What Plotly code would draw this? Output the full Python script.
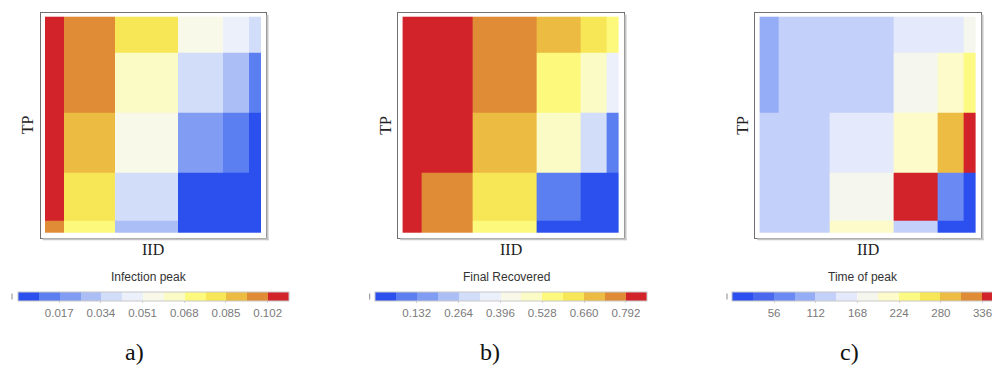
import plotly.graph_objects as go

# ---------------- data ----------------
# cell edges (relative units), IID left->right, TP bottom->top
IID_EDGES = [0.0, 0.087, 0.323, 0.617, 0.824, 0.943, 1.0]
TP_EDGES = [0.0, 0.052, 0.275, 0.555, 0.835, 1.0]

# rows bottom -> top
infection_peak = [
    [0.097, 0.071, 0.029, 0.003, 0.002, 0.001],
    [0.107, 0.080, 0.037, 0.004, 0.003, 0.002],
    [0.108, 0.089, 0.055, 0.021, 0.013, 0.006],
    [0.109, 0.098, 0.063, 0.038, 0.030, 0.014],
    [0.110, 0.100, 0.081, 0.054, 0.046, 0.039],
]
final_recovered = [
    [0.835, 0.760, 0.560, 0.030, 0.020, 0.015],
    [0.840, 0.770, 0.630, 0.100, 0.040, 0.025],
    [0.845, 0.820, 0.700, 0.490, 0.300, 0.110],
    [0.848, 0.830, 0.765, 0.570, 0.500, 0.360],
    [0.850, 0.835, 0.780, 0.690, 0.630, 0.560],
]
time_of_peak = [
    [126, 128, 210, 130, 14, 10],
    [125, 127, 182, 350, 70, 20],
    [124, 126, 154, 212, 294, 345],
    [98, 122, 130, 185, 205, 238],
    [96, 120, 132, 150, 158, 178],
]

TICKS_A = [0.017, 0.034, 0.051, 0.068, 0.085, 0.102]
TICKS_B = [0.132, 0.264, 0.396, 0.528, 0.660, 0.792]
TICKS_C = [56, 112, 168, 224, 280, 336]
TICKTEXT_A = ["0.017", "0.034", "0.051", "0.068", "0.085", "0.102"]
TICKTEXT_B = ["0.132", "0.264", "0.396", "0.528", "0.660", "0.792"]
TICKTEXT_C = ["56", "112", "168", "224", "280", "336"]
STEP_A, STEP_B, STEP_C = 0.0085, 0.066, 28

TITLES = ["Infection peak", "Final Recovered", "Time of peak"]
PANEL_LABELS = ["a)", "b)", "c)"]

PAL_AB = ['#2c50ee', '#5b7ff0', '#809cf3', '#abbef6', '#d2ddf9', '#ebf0fb', '#f8f9e9',
          '#fbfbc6', '#fdf97c', '#f7e655', '#ecbb42', '#e08c37', '#d2232a']
PAL_C = ['#2c50ef', '#4a68ee', '#6a89f2', '#95acf6', '#c3d1fa', '#e4e9fb', '#f5f7ee',
         '#fdfbc9', '#fdfa83', '#f7e655', '#ecbd42', '#e08c36', '#d3232a']

W, H = 992, 365


def px(x):
    return x / W


def py(y):
    return 1 - y / H


def discrete(pal):
    n = len(pal)
    cs = []
    for i, c in enumerate(pal):
        cs.append([i / n, c])
        cs.append([(i + 1) / n, c])
    return cs


frames = [(40.7, 266.0), (398.3, 624.0), (755.3, 981.0)]
frame_top, frame_bot = 12.7, 237.7
bars = [(17.3, 288.7), (375.0, 646.7), (732.3, 1003.5)]
bar_top = 292.3
title_x = [148.5, 506.5, 863.0]
label_x = [134, 490, 849]

datasets = [infection_peak, final_recovered, time_of_peak]
ticks = [TICKS_A, TICKS_B, TICKS_C]
ticktexts = [TICKTEXT_A, TICKTEXT_B, TICKTEXT_C]
steps = [STEP_A, STEP_B, STEP_C]
pals = [PAL_AB, PAL_AB, PAL_C]

fig = go.Figure()
shapes = []
annotations = []
serif = "Liberation Serif"
sans = "Liberation Sans"

for i in range(3):
    ax = "" if i == 0 else str(i + 1)
    b0, b1 = bars[i]
    fig.add_trace(go.Heatmap(
        z=datasets[i], x=IID_EDGES, y=TP_EDGES, zsmooth=False,
        colorscale=discrete(pals[i]), zmin=0, zmax=13 * steps[i],
        xaxis="x" + ax, yaxis="y" + ax, hoverinfo="skip",
        colorbar=dict(
            orientation="h", lenmode="pixels", len=b1 - b0, thickness=9,
            x=px((b0 + b1) / 2), xanchor="center", y=py(bar_top), yanchor="top",
            xpad=0, ypad=0, outlinewidth=1, outlinecolor="#c8c8c8",
            tickvals=ticks[i], ticktext=ticktexts[i], ticks="outside", ticklen=2,
            ticklabeloverflow="allow",
            tickcolor="#d0d0d0", tickfont=dict(family=sans, size=11.5, color="#7a7a7a"),
        ),
    ))
    f0, f1 = frames[i]
    common = dict(showgrid=False, zeroline=False, showticklabels=False, ticks="",
                  showline=True, mirror=True, linecolor="#707070", linewidth=1,
                  fixedrange=True)
    fig.layout["xaxis" + ax] = dict(domain=[px(f0), px(f1)], range=[-0.0199, 1.0231],
                                    anchor="y" + ax, **common)
    fig.layout["yaxis" + ax] = dict(domain=[py(frame_bot), py(frame_top)],
                                    range=[-0.025, 1.0186], anchor="x" + ax, **common)
    # shadow on right and bottom
    shapes.append(dict(type="line", xref="paper", yref="paper",
                       x0=px(f1 + 1.5), x1=px(f1 + 1.5), y0=py(frame_top + 2), y1=py(frame_bot + 2.5),
                       line=dict(color="#c4c4c4", width=2)))
    shapes.append(dict(type="line", xref="paper", yref="paper",
                       x0=px(f0 + 2), x1=px(f1 + 2.5), y0=py(frame_bot + 1.5), y1=py(frame_bot + 1.5),
                       line=dict(color="#c4c4c4", width=2)))
    # small mark left of colorbar
    shapes.append(dict(type="line", xref="paper", yref="paper",
                       x0=px(b0 - 5.3), x1=px(b0 - 5.3), y0=py(293.5), y1=py(299.5),
                       line=dict(color="#8a8a8a", width=1)))
    # axis titles
    annotations.append(dict(text="TP", x=px(f0 - 13.5), y=py(125), xref="paper", yref="paper",
                            textangle=-90, showarrow=False, xanchor="center", yanchor="middle",
                            font=dict(family=serif, size=16, color="#222")))
    annotations.append(dict(text="IID", x=px((f0 + f1) / 2), y=py(249.5), xref="paper", yref="paper",
                            showarrow=False, xanchor="center", yanchor="middle",
                            font=dict(family=serif, size=16, color="#222")))
    annotations.append(dict(text=TITLES[i], x=px(title_x[i]), y=py(277), xref="paper", yref="paper",
                            showarrow=False, xanchor="center", yanchor="middle",
                            font=dict(family=sans, size=12, color="#333")))
    annotations.append(dict(text=PANEL_LABELS[i], x=px(label_x[i]), y=py(352), xref="paper", yref="paper",
                            showarrow=False, xanchor="center", yanchor="middle",
                            font=dict(family=serif, size=24, color="#111")))

fig.update_layout(width=W, height=H, margin=dict(l=0, r=0, t=0, b=0, autoexpand=False),
                  paper_bgcolor="white", plot_bgcolor="white",
                  shapes=shapes, annotations=annotations, showlegend=False)
fig.write_html("out.html", config={"displayModeBar": False},
               post_script="document.body.style.margin='0';document.body.style.overflow='hidden';")
